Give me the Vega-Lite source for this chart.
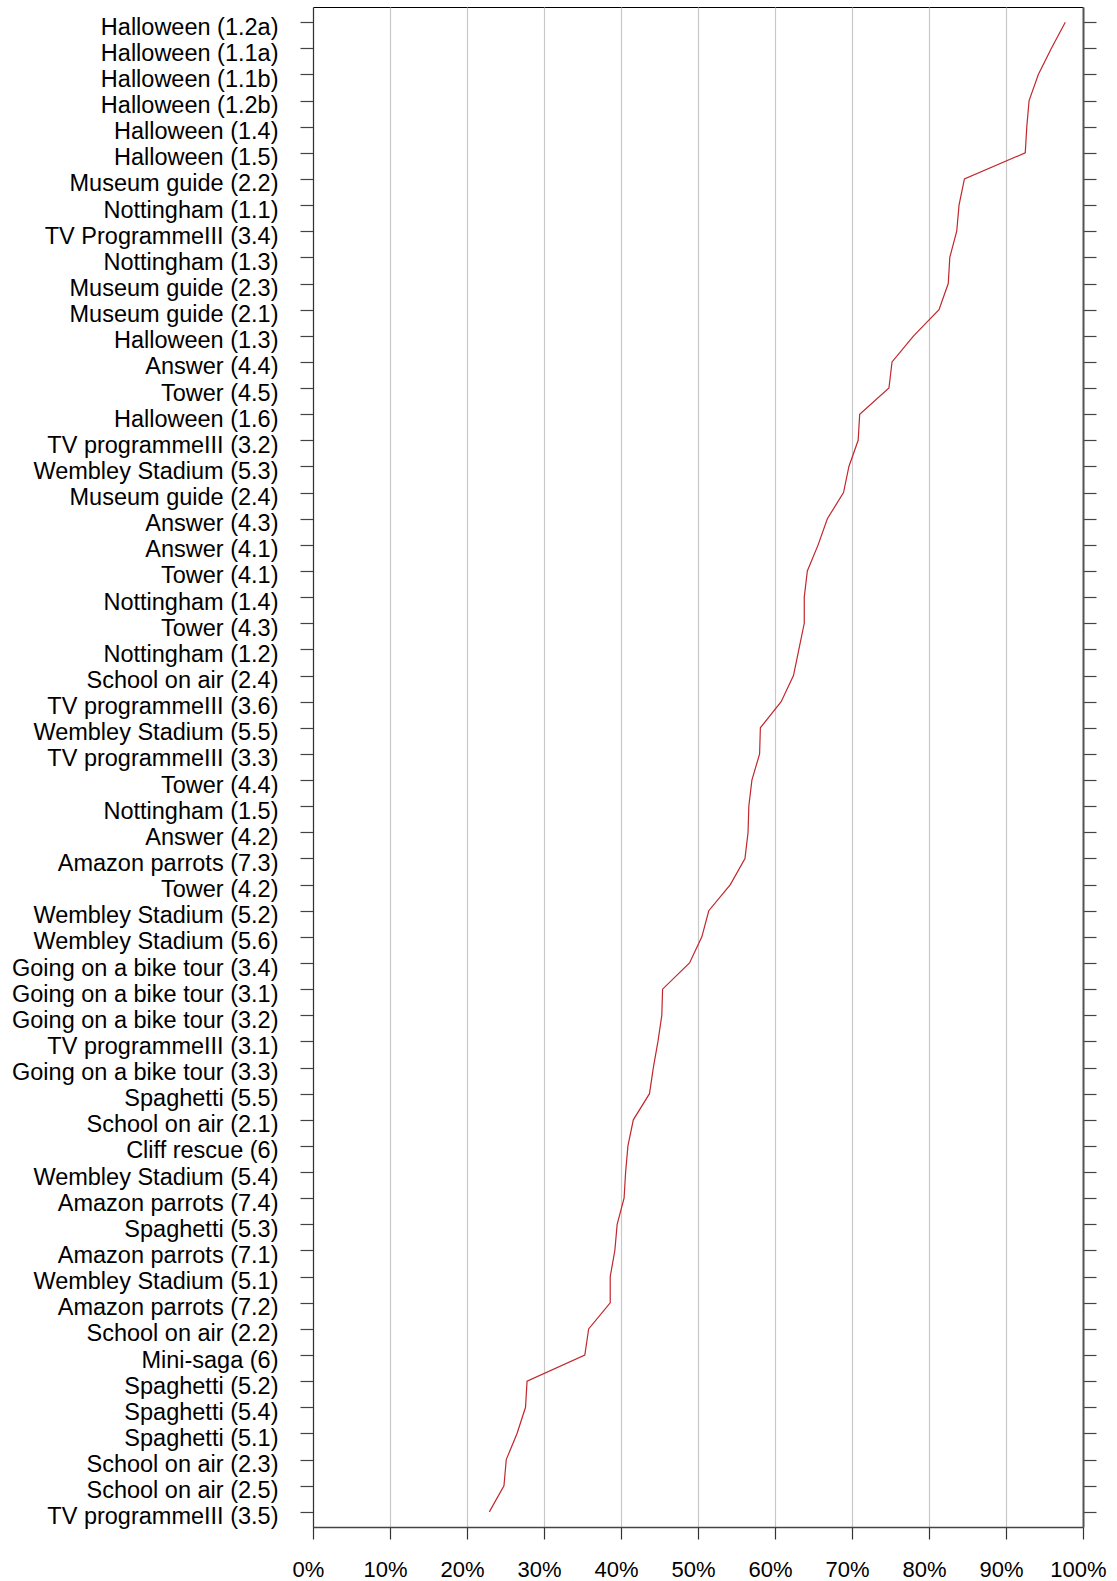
{
  "$schema": "https://vega.github.io/schema/vega-lite/v6.json",
  "width": 770,
  "height": 1520,
  "autosize": "none",
  "padding": {"left": 313, "top": 7, "right": 34, "bottom": 54},
  "background": "white",
  "config": {"view": {"stroke": "#000", "strokeWidth": 1}, "font": "Liberation Sans"},
  "data": {"values": [
    {"task": "Halloween (1.2a)", "pct": 97.7},
    {"task": "Halloween (1.1a)", "pct": 95.9},
    {"task": "Halloween (1.1b)", "pct": 94.2},
    {"task": "Halloween (1.2b)", "pct": 93.0},
    {"task": "Halloween (1.4)", "pct": 92.7},
    {"task": "Halloween (1.5)", "pct": 92.5},
    {"task": "Museum guide (2.2)", "pct": 84.6},
    {"task": "Nottingham (1.1)", "pct": 83.9},
    {"task": "TV ProgrammeIII (3.4)", "pct": 83.6},
    {"task": "Nottingham (1.3)", "pct": 82.7},
    {"task": "Museum guide (2.3)", "pct": 82.5},
    {"task": "Museum guide (2.1)", "pct": 81.3},
    {"task": "Halloween (1.3)", "pct": 78.0},
    {"task": "Answer (4.4)", "pct": 75.2},
    {"task": "Tower (4.5)", "pct": 74.8},
    {"task": "Halloween (1.6)", "pct": 71.0},
    {"task": "TV programmeIII (3.2)", "pct": 70.8},
    {"task": "Wembley Stadium (5.3)", "pct": 69.6},
    {"task": "Museum guide (2.4)", "pct": 68.9},
    {"task": "Answer (4.3)", "pct": 66.8},
    {"task": "Answer (4.1)", "pct": 65.6},
    {"task": "Tower (4.1)", "pct": 64.2},
    {"task": "Nottingham (1.4)", "pct": 63.8},
    {"task": "Tower (4.3)", "pct": 63.8},
    {"task": "Nottingham (1.2)", "pct": 63.1},
    {"task": "School on air (2.4)", "pct": 62.4},
    {"task": "TV programmeIII (3.6)", "pct": 60.8},
    {"task": "Wembley Stadium (5.5)", "pct": 58.1},
    {"task": "TV programmeIII (3.3)", "pct": 58.0},
    {"task": "Tower (4.4)", "pct": 57.0},
    {"task": "Nottingham (1.5)", "pct": 56.6},
    {"task": "Answer (4.2)", "pct": 56.5},
    {"task": "Amazon parrots (7.3)", "pct": 56.1},
    {"task": "Tower (4.2)", "pct": 54.2},
    {"task": "Wembley Stadium (5.2)", "pct": 51.4},
    {"task": "Wembley Stadium (5.6)", "pct": 50.5},
    {"task": "Going on a bike tour (3.4)", "pct": 48.9},
    {"task": "Going on a bike tour (3.1)", "pct": 45.4},
    {"task": "Going on a bike tour (3.2)", "pct": 45.3},
    {"task": "TV programmeIII (3.1)", "pct": 44.8},
    {"task": "Going on a bike tour (3.3)", "pct": 44.2},
    {"task": "Spaghetti (5.5)", "pct": 43.7},
    {"task": "School on air (2.1)", "pct": 41.6},
    {"task": "Cliff rescue (6)", "pct": 40.9},
    {"task": "Wembley Stadium (5.4)", "pct": 40.6},
    {"task": "Amazon parrots (7.4)", "pct": 40.4},
    {"task": "Spaghetti (5.3)", "pct": 39.5},
    {"task": "Amazon parrots (7.1)", "pct": 39.2},
    {"task": "Wembley Stadium (5.1)", "pct": 38.6},
    {"task": "Amazon parrots (7.2)", "pct": 38.6},
    {"task": "School on air (2.2)", "pct": 35.8},
    {"task": "Mini-saga (6)", "pct": 35.3},
    {"task": "Spaghetti (5.2)", "pct": 27.8},
    {"task": "Spaghetti (5.4)", "pct": 27.6},
    {"task": "Spaghetti (5.1)", "pct": 26.5},
    {"task": "School on air (2.3)", "pct": 25.1},
    {"task": "School on air (2.5)", "pct": 24.8},
    {"task": "TV programmeIII (3.5)", "pct": 22.9}
  ]},
  "encoding": {
    "x": {
      "field": "pct", "type": "quantitative",
      "scale": {"domain": [0, 100], "nice": false, "zero": true},
      "axis": {
        "values": [0, 10, 20, 30, 40, 50, 60, 70, 80, 90, 100],
        "title": null, "grid": true, "gridColor": "#c8c8c8", "gridWidth": 1.2,
        "tickSize": 12, "tickColor": "#333", "tickWidth": 1.2,
        "domainColor": "#444", "domainWidth": 1.5,
        "labelFontSize": 22, "labelColor": "#000", "labelExpr": "datum.value + '%'",
        "labelBaseline": "alphabetic", "labelPadding": 37, "labelOffset": -5, "labelFlush": false
      }
    },
    "order": {"value": null}
  },
  "layer": [
    {
      "mark": {"type": "line", "color": "#c1272d", "strokeWidth": 1.2},
      "encoding": {
        "y": {
          "field": "task", "type": "nominal", "sort": null,
          "scale": {"type": "point", "padding": 0.58},
          "axis": {
            "orient": "left", "title": null, "tickSize": 13, "tickColor": "#444", "tickWidth": 1.2,
            "domainColor": "#333", "domainWidth": 1.2,
            "labelFontSize": 23.5, "labelColor": "#000", "labelPadding": 22, "labelLimit": 400,
            "labelBaseline": "middle", "labelOffset": 5
          }
        }
      }
    },
    {
      "mark": {"type": "line", "strokeOpacity": 0},
      "encoding": {
        "y": {
          "field": "task", "type": "nominal", "sort": null,
          "scale": {"type": "point", "padding": 0.58},
          "axis": {
            "orient": "right", "title": null, "labels": false, "tickSize": 13, "tickColor": "#444", "tickWidth": 1.2,
            "domainColor": "#555", "domainWidth": 2
          }
        }
      }
    }
  ],
  "resolve": {"axis": {"y": "independent"}}
}
